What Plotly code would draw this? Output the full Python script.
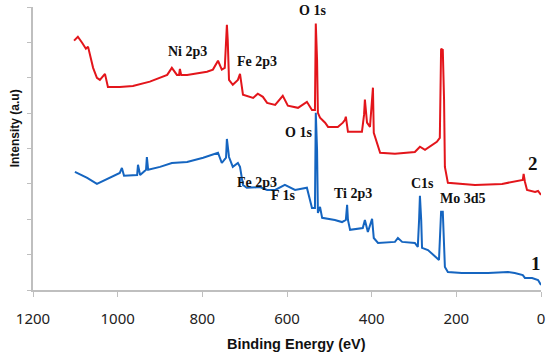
import plotly.graph_objects as go

# Sample 2 (red, upper)
energy_2 = [1103, 1094, 1084, 1075, 1070, 1065, 1058, 1049, 1042, 1030, 1023, 995, 964, 924, 883, 872, 860,
            855, 853, 850, 836, 789, 775, 763, 754, 747, 742, 740, 737, 728, 716, 711, 704, 680, 669, 657,
            647, 628, 610, 598, 574, 553, 541, 534, 532, 529, 527, 522, 510, 503, 480, 468, 463, 461, 456,
            423, 418, 416, 413, 411, 404, 399, 397, 395, 387, 380, 345, 298, 286, 274, 246, 239, 236, 232,
            229, 227, 220, 156, 92, 62, 43, 41, 38, 33, 14, 7, 0]
intensity_2 = [7.05, 7.16, 6.99, 6.82, 6.88, 6.65, 6.28, 6.0, 5.94, 6.11, 5.74, 5.74, 5.77, 5.89, 6.08, 6.28,
               6.08, 6.08, 6.25, 6.08, 6.08, 6.17, 6.23, 6.48, 6.23, 6.28, 7.5, 7.07, 5.94, 5.8, 5.94, 6.11,
               5.52, 5.43, 5.55, 5.46, 5.29, 5.23, 5.49, 5.21, 5.15, 5.32, 5.09, 5.09, 7.53, 6.5, 5.01, 4.87,
               4.73, 4.61, 4.61, 4.73, 4.81, 4.9, 4.47, 4.47, 4.95, 5.38, 4.95, 4.73, 4.61, 5.38, 5.72, 4.44,
               4.16, 3.88, 3.85, 3.9, 4.05, 3.96, 4.19, 4.3, 6.82, 6.79, 5.38, 3.48, 3.03, 2.97, 3.0, 3.06,
               3.11, 3.28, 3.06, 2.83, 2.77, 2.8, 2.69]

# Sample 1 (blue, lower)
energy_1 = [1101, 1072, 1049, 1018, 995, 990, 985, 954, 952, 947, 933, 931, 928, 900, 872, 836, 798, 763, 754,
            744, 742, 737, 728, 716, 711, 704, 695, 664, 647, 628, 605, 581, 553, 541, 534, 532, 529, 527,
            522, 517, 487, 470, 461, 458, 456, 451, 421, 416, 409, 399, 395, 385, 345, 338, 328, 298, 291,
            288, 286, 283, 281, 267, 246, 241, 236, 232, 227, 220, 187, 125, 78, 62, 43, 38, 21, 7, 0]
intensity_1 = [3.34, 3.17, 3.0, 3.17, 3.31, 3.45, 3.23, 3.25, 3.54, 3.25, 3.40, 3.76, 3.40, 3.48, 3.59, 3.62,
               3.74, 3.88, 3.59, 3.74, 4.27, 3.76, 3.48, 3.59, 3.48, 2.97, 2.89, 2.91, 2.83, 2.83, 2.97, 2.83,
               2.89, 2.32, 2.32, 5.01, 3.96, 2.18, 2.35, 2.04, 1.98, 1.92, 1.98, 2.41, 1.98, 1.7, 1.75, 1.98,
               1.64, 2.01, 1.47, 1.33, 1.36, 1.47, 1.36, 1.33, 1.22, 1.98, 2.66, 1.98, 1.19, 1.13, 0.91, 0.85,
               2.21, 2.21, 0.65, 0.51, 0.48, 0.48, 0.51, 0.48, 0.42, 0.34, 0.34, 0.28, 0.14]

# Peak labels
label_text = ["Ni 2p3", "Fe 2p3", "O 1s", "O 1s", "Fe 2p3", "F 1s", "Ti 2p3", "C1s", "Mo 3d5"]
label_x = [834, 671, 539, 572, 671, 609, 444, 281, 184]
label_y = [6.74, 6.45, 7.89, 4.44, 3.03, 2.66, 2.72, 3.0, 2.58]

series_text = ["2", "1"]
series_x = [19, 12]
series_y = [3.59, 0.74]

x_ticks = [1200, 1000, 800, 600, 400, 200, 0]

fig = go.Figure()
fig.add_trace(go.Scatter(x=energy_2, y=intensity_2, mode="lines",
                         line=dict(color="#e3151b", width=2), showlegend=False))
fig.add_trace(go.Scatter(x=energy_1, y=intensity_1, mode="lines",
                         line=dict(color="#1565c0", width=2), showlegend=False))

for t, x, y in zip(label_text, label_x, label_y):
    fig.add_annotation(x=x, y=y, text=f"<b>{t}</b>", showarrow=False,
                       font=dict(family="Liberation Serif", size=14, color="#111111"))
for t, x, y in zip(series_text, series_x, series_y):
    fig.add_annotation(x=x, y=y, text=f"<b>{t}</b>", showarrow=False,
                       font=dict(family="Liberation Serif", size=19, color="#111111"))

# Axis titles
fig.add_annotation(xref="paper", yref="paper", x=0.518, y=-0.19, yanchor="middle",
                   text="<b>Binding Energy (eV)</b>", showarrow=False,
                   font=dict(family="Liberation Sans", size=14.5, color="#111111"))
fig.add_annotation(xref="paper", yref="paper", x=-0.035, y=0.572, xanchor="center",
                   text="<b>Intensity (a.u)</b>", showarrow=False, textangle=-90,
                   font=dict(family="Liberation Sans", size=12, color="#111111"))

fig.update_layout(
    width=550, height=358,
    margin=dict(l=33, r=9, t=7, b=68, autoexpand=False),
    plot_bgcolor="white", paper_bgcolor="white",
    xaxis=dict(range=[1200, 0], tickvals=x_ticks, ticktext=[str(v) for v in x_ticks],
               automargin=False,
               showgrid=False, zeroline=False, showline=True, linecolor="#bfbfbf", linewidth=1.5,
               ticks="outside", ticklen=5, tickcolor="#bfbfbf", ticklabelstandoff=9,
               tickfont=dict(family="Noto Sans", size=15, color="#222222")),
    yaxis=dict(range=[0, 8], dtick=1, showticklabels=False, automargin=False,
               showgrid=False, zeroline=False, showline=True, linecolor="#bfbfbf", linewidth=1.5,
               ticks="outside", ticklen=4, tickcolor="#bfbfbf"),
)

fig.write_html("out.html", config={"displayModeBar": False},
               post_script="document.body.style.margin='0';document.body.style.overflow='hidden';")
